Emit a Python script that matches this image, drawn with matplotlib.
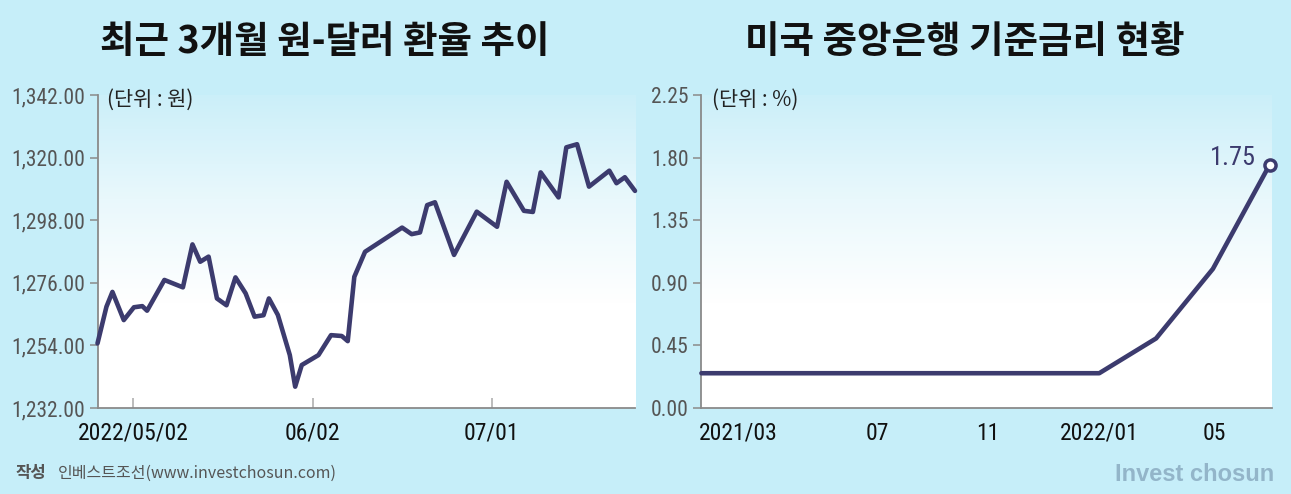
import numpy as np
import matplotlib
matplotlib.use("Agg")
import matplotlib.pyplot as plt
from matplotlib import font_manager
from matplotlib.font_manager import FontProperties
from matplotlib.colors import LinearSegmentedColormap
from matplotlib.ticker import FuncFormatter

# ---------------- data ----------------
# left: KRW/USD exchange rate, x = day offset from 2022/05/02
fx_x = [-6.0, -4.5, -3.5, -1.6, 0.1, 1.5, 2.3, 5.2, 8.3, 9.9,
        11.2, 12.6, 14.0, 15.6, 17.1, 18.8, 20.3, 21.8, 22.7, 24.2,
        26.2, 27.1, 28.2, 31.0, 33.1, 34.9, 35.9, 37.0, 38.8, 45.0,
        46.6, 48.0, 49.2, 50.5, 53.7, 57.5, 60.9, 62.5, 65.4, 66.9,
        68.2, 71.2, 72.5, 74.3, 76.3, 79.7, 80.9, 82.3, 84.0]
fx_val = [1254.7, 1267.6, 1272.8, 1262.9, 1267.4, 1267.8, 1266.2, 1277.0, 1274.4, 1289.5,
          1283.4, 1285.2, 1270.5, 1268.1, 1277.9, 1272.3, 1264.1, 1264.6, 1270.5, 1264.7,
          1250.6, 1239.5, 1247.1, 1250.6, 1257.6, 1257.3, 1255.5, 1278.1, 1286.9, 1295.4,
          1293.1, 1293.7, 1303.3, 1304.3, 1285.8, 1301.0, 1295.7, 1311.5, 1301.3, 1300.9,
          1314.8, 1306.0, 1323.6, 1324.7, 1309.8, 1315.4, 1311.0, 1313.1, 1308.3]
fx_ticks = [0, 30, 60]
fx_ticklabels = ["2022/05/02", "06/02", "07/01"]
fx_yticks = [1232, 1254, 1276, 1298, 1320, 1342]

# right: US Fed policy rate (upper bound), x = category position
rate_x = [0, 7, 8, 9, 10]
rate_val = [0.25, 0.25, 0.50, 1.00, 1.75]
rate_label_pos = [0.64, 3.10, 5.04, 7.0, 9.02]
rate_labels = ["2021/03", "07", "11", "2022/01", "05"]
rate_tickmarks = [3.10, 5.04, 7.0, 9.02]
rate_yticks = [0.00, 0.45, 0.90, 1.35, 1.80, 2.25]

# ---------------- fonts ----------------
def find_condensed():
    pref = ["Liberation Sans Narrow", "Roboto Condensed", "Open Sans Condensed",
            "Noto Sans Condensed", "DejaVu Sans Condensed"]
    cands = []
    for f in font_manager.fontManager.ttflist:
        nm = f.name
        st = str(f.stretch)
        is_cond = ("Narrow" in nm or "Condensed" in nm or "Condensed" in f.fname
                   or "Narrow" in f.fname or st in ("condensed", "semi-condensed",
                                                     "extra-condensed", "ultra-condensed"))
        if not is_cond:
            continue
        w = f.weight if isinstance(f.weight, int) else 400
        if f.style != "normal" or not (350 <= w <= 450):
            continue
        rank = pref.index(nm) if nm in pref else len(pref)
        cands.append((rank, f.fname))
    if cands:
        cands.sort()
        return cands[0][1]
    return None

cond_file = find_condensed()
if cond_file:
    NUMP = lambda size: FontProperties(fname=cond_file, size=size)
    YT, XT, ANN = 15.5, 17, 19
else:
    NUMP = lambda size: FontProperties(family="Liberation Sans", size=size)
    YT, XT, ANN = 12.5, 15, 16

BG = "#c6eef9"
LINE = "#3c3b6e"
KR = "Noto Sans CJK KR"
plt.rcParams["font.family"] = [KR, "DejaVu Sans"]

W, H = 1291, 494
fig = plt.figure(figsize=(W / 100, H / 100), dpi=100, facecolor=BG)

def fx(px):
    return px / W

def fy(py):
    return 1 - py / H

grad = LinearSegmentedColormap.from_list("g", ["#ffffff", "#ffffff", "#e9f8fc", "#cbeff9"])
gimg = np.linspace(0, 1, 256).reshape(-1, 1)

def make_ax(x0, x1):
    ax = fig.add_axes([fx(x0), fy(408), fx(x1) - fx(x0), fy(95) - fy(408)])
    ax.set_facecolor("white")
    ax.imshow(gimg, cmap=grad, aspect="auto", extent=[0, 1, 0, 1],
              transform=ax.transAxes, origin="lower", zorder=0)
    for s in ["top", "right"]:
        ax.spines[s].set_visible(False)
    for s in ["left", "bottom"]:
        ax.spines[s].set_color("#8a8a8a")
        ax.spines[s].set_linewidth(1.3)
    ax.tick_params(axis="y", direction="out", length=6, width=1.1, color="#8a8a8a",
                   pad=3, labelcolor="#555555")
    return ax

def style_labels(ax):
    for lab in ax.get_yticklabels():
        lab.set_fontproperties(NUMP(YT))
    for lab in ax.get_xticklabels():
        lab.set_fontproperties(NUMP(XT))

# ---------- left chart ----------
ax1 = make_ax(97.5, 635)
ax1.plot(fx_x, fx_val, color=LINE, lw=3.3, solid_joinstyle="round",
         solid_capstyle="round", zorder=3, clip_on=False)
ax1.set_xlim(-6, 84)
ax1.set_ylim(1232, 1342)
ax1.set_yticks(fx_yticks)
ax1.yaxis.set_major_formatter(FuncFormatter(lambda v, p: f"{v:,.2f}"))
ax1.set_xticks(fx_ticks)
ax1.set_xticklabels(fx_ticklabels)
ax1.tick_params(axis="x", direction="in", length=7, width=1.1, color="#aaaaaa",
                pad=10, labelcolor="#111111")
style_labels(ax1)

# ---------- right chart ----------
ax2 = make_ax(701.4, 1272)
ax2.plot(rate_x, rate_val, color=LINE, lw=3.3, solid_joinstyle="round",
         solid_capstyle="round", zorder=3, clip_on=False)
ax2.plot(rate_x[-1:], rate_val[-1:], "o", ms=8, mfc="white", mec=LINE, mew=2.5,
         zorder=4, clip_on=False)
ax2.annotate(f"{rate_val[-1]:.2f}", (rate_x[-1], rate_val[-1]), xytext=(-10, 5),
             textcoords="offset points", ha="right", va="center",
             color=LINE, fontproperties=NUMP(ANN))
ax2.set_xlim(0, 10.04)
ax2.set_ylim(0, 2.25)
ax2.set_yticks(rate_yticks)
ax2.yaxis.set_major_formatter(FuncFormatter(lambda v, p: f"{v:.2f}"))
ax2.set_xticks(rate_label_pos)
ax2.set_xticklabels(rate_labels)
ax2.set_xticks(rate_tickmarks, minor=True)
ax2.tick_params(axis="x", which="major", length=0, pad=10, labelcolor="#111111")
ax2.tick_params(axis="x", which="minor", direction="in", length=7, width=1.1,
                color="#aaaaaa")
style_labels(ax2)

# ---------- texts ----------
fig.text(fx(325), fy(42), "최근 3개월 원-달러 환율 추이", ha="center", va="center",
         fontsize=27, fontweight="bold", color="#111111")
fig.text(fx(965), fy(42), "미국 중앙은행 기준금리 현황", ha="center", va="center",
         fontsize=27, fontweight="bold", color="#111111")
fig.text(fx(107), fy(100), "(단위 : 원)", ha="left", va="center", fontsize=15,
         color="#222222")
fig.text(fx(712), fy(100), "(단위 : %)", ha="left", va="center", fontsize=15,
         color="#222222")
fig.text(fx(16), fy(473), "작성", ha="left", va="center", fontsize=12,
         fontweight="bold", color="#555555")
fig.text(fx(58), fy(473), "인베스트조선(www.investchosun.com)", ha="left", va="center",
         fontsize=11.5, color="#555555")
fig.text(fx(1274), fy(474), "Invest chosun", ha="right", va="center", fontsize=17,
         fontweight="bold", color="#93b5c9", family="Liberation Sans")

fig.savefig("out.png", dpi=100, facecolor=BG)
